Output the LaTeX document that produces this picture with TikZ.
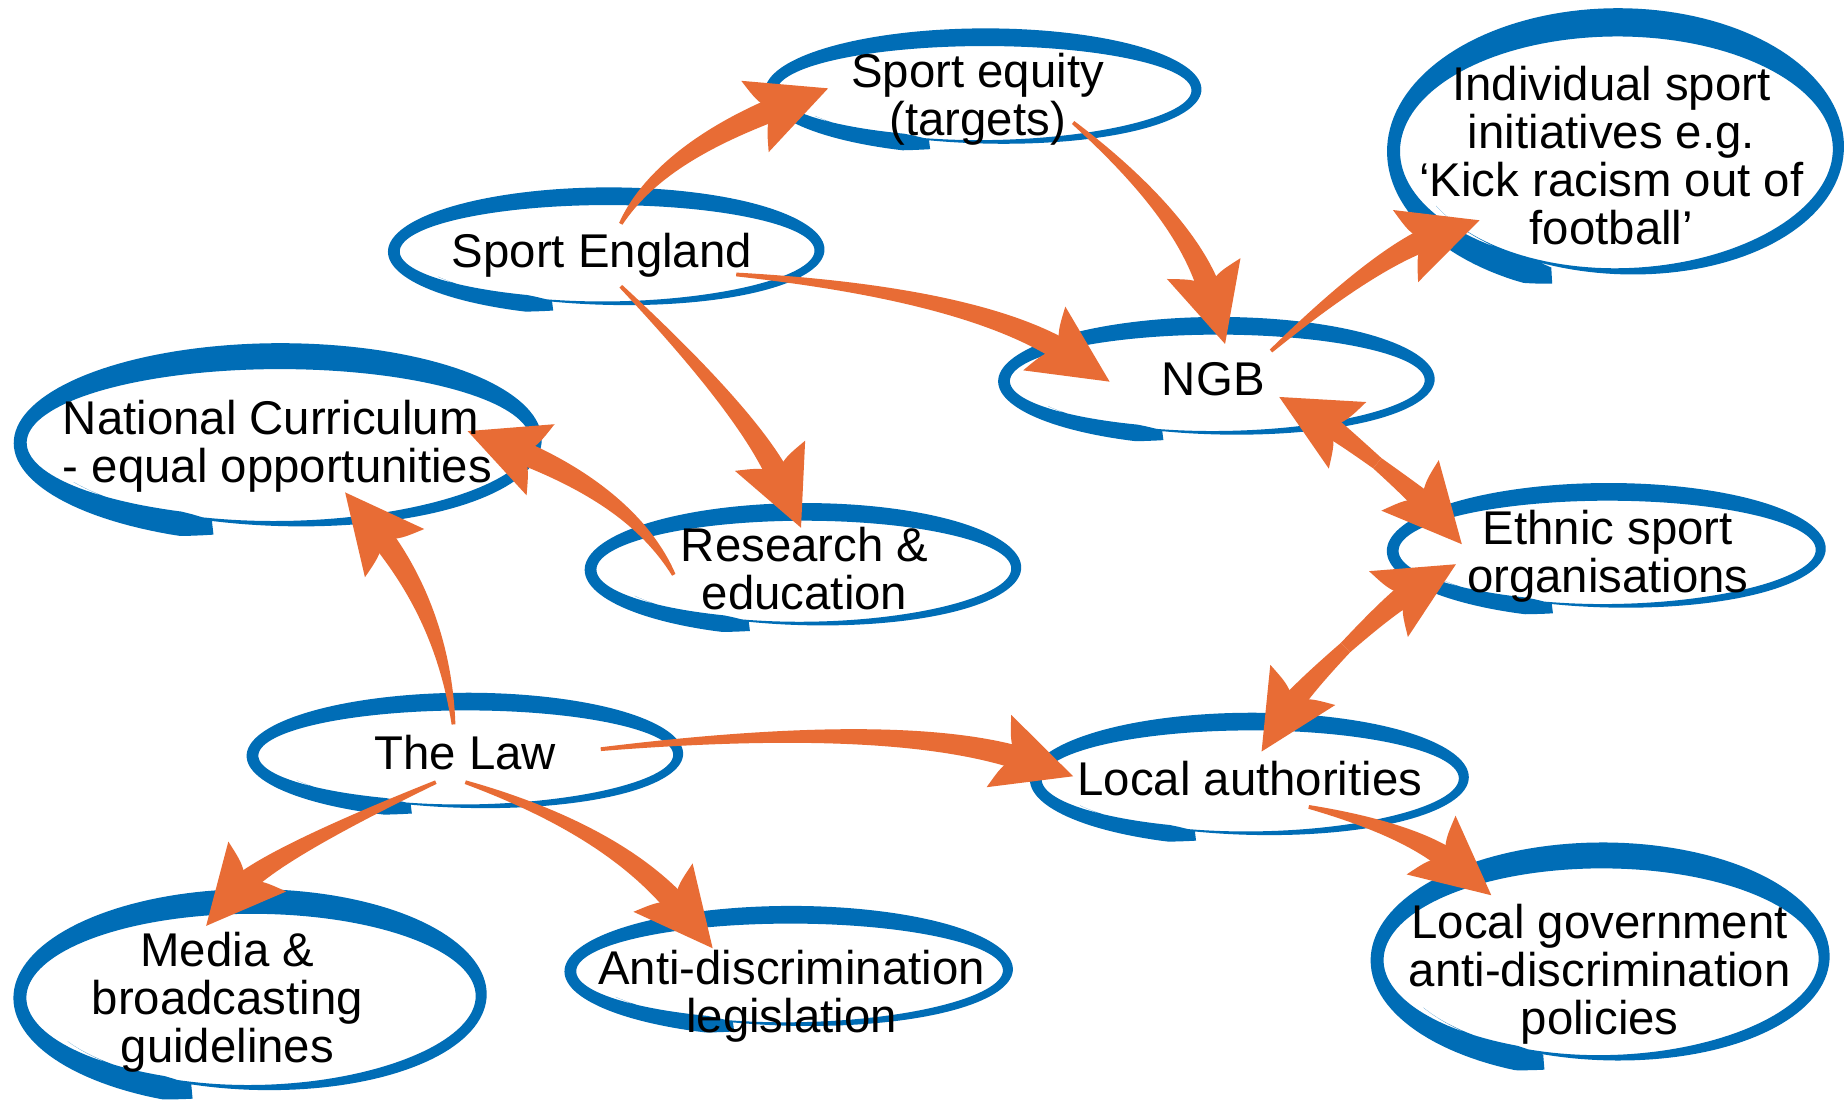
\documentclass[tikz,border=0pt]{standalone}
\usepackage{fontspec}
\setmainfont{Liberation Sans}
\usetikzlibrary{calc}
\definecolor{brushblue}{RGB}{0,109,182}
\definecolor{arrowor}{RGB}{232,108,53}
% brush ring: cx cy a b wx wy phi0
\newcommand\brushring[7]{%
 \fill[brushblue] plot[domain=0:1,samples=170,variable=\t]
   ({#1+((#3)*(1.05-0.1*\t)+(#5)*0.5*gw(\t))*cos(#7+405*\t)},
    {#2+((#4)*(1.05-0.1*\t)+(#6)*0.5*gw(\t))*sin(#7+405*\t)})
  -- plot[domain=1:0,samples=170,variable=\t]
   ({#1+((#3)*(1.05-0.1*\t)-(#5)*0.5*gw(\t))*cos(#7+405*\t)},
    {#2+((#4)*(1.05-0.1*\t)-(#6)*0.5*gw(\t))*sin(#7+405*\t)})
  -- cycle;}
% tapered arrow: start, control, tip, start half width, end half width (pt)
\newcommand\orarrow[5]{%
 \coordinate (ae) at ($(#3)!20pt!(#2)$);
 \coordinate (aqa) at ($(#1)!0.6667!(#2)$);
 \coordinate (aqb) at ($(ae)!0.6667!(#2)$);
 \pgfmathsetmacro\hqa{#4+0.45*(#5-#4)}%
 \pgfmathsetmacro\hqb{#4+0.85*(#5-#4)}%
 \fill[arrowor] ($(#1)!#4pt!-90:(#2)$) .. controls ($(aqa)!\hqa pt!-90:(#2)$) and ($(aqb)!\hqb pt!90:(#2)$) .. ($(ae)!#5pt!90:(#2)$)
   -- ($(ae)!#5pt!-90:(#2)$) .. controls ($(aqb)!\hqb pt!-90:(#2)$) and ($(aqa)!\hqa pt!90:(#2)$) .. ($(#1)!#4pt!90:(#2)$) -- cycle;
 \fill[arrowor] (#3) .. controls ($(#3)!19pt!26:(#2)$) .. ($(#3)!37pt!26:(#2)$)
   .. controls ($(#3)!31pt!12:(#2)$) .. ($(#3)!26pt!(#2)$)
   .. controls ($(#3)!31pt!-12:(#2)$) .. ($(#3)!37pt!-26:(#2)$)
   .. controls ($(#3)!19pt!-26:(#2)$) .. (#3) -- cycle;}
\begin{document}
\begin{tikzpicture}[x=0.5pt,y=-0.5pt,
  declare function={gw(\t)=min(1,0.55+25*\t)*((\t<0.5)+(\t>=0.5)*0.5*(1+cos(360*(\t-0.5))));},
  lbl/.style={font=\fontsize{20.1}{20.4}\selectfont, align=center, inner sep=0pt, text=black}]
\useasboundingbox (0,0) rectangle (1568,943);
\fill[white] (0,0) rectangle (1568,943);
% rings
\brushring{839}{77}{179}{45}{10}{15}{105}
\brushring{1376}{127}{187}{107}{11}{24}{107}
\brushring{519}{213}{179}{46}{10}{15}{105}
\brushring{1037}{323}{179}{46}{10}{15}{105}
\brushring{241}{375}{217}{72}{11}{22}{105}
\brushring{686}{483}{179}{48}{10}{15}{105}
\brushring{1368}{467}{180}{49}{10}{15}{105}
\brushring{399}{641}{179}{45}{10}{15}{105}
\brushring{1065}{661}{180}{48}{10}{15}{105}
\brushring{217}{846}{194}{80}{11}{21}{105}
\brushring{674}{824}{184}{47}{10}{15}{105}
\brushring{1363}{814}{188}{87}{11}{22}{105}
% connector coordinates
\coordinate (a1s) at (527,190); \coordinate (a1c) at (560,130); \coordinate (a1t) at (703,75);
\coordinate (a2s) at (911,104); \coordinate (a2c) at (1010,186); \coordinate (a2t) at (1040,292);
\coordinate (a3s) at (625,233); \coordinate (a3c) at (830,250); \coordinate (a3t) at (942,324);
\coordinate (a4s) at (527,243); \coordinate (a4c) at (640,355); \coordinate (a4t) at (680,448);
\coordinate (a5s) at (572,488); \coordinate (a5c) at (537,421); \coordinate (a5t) at (397,366);
\coordinate (a6s) at (385,615); \coordinate (a6c) at (376,520); \coordinate (a6t) at (293,418);
\coordinate (a7s) at (510,636); \coordinate (a7c) at (767,610); \coordinate (a7t) at (911,659);
\coordinate (a8s) at (370,664); \coordinate (a8c) at (225,728); \coordinate (a8t) at (175,786);
\coordinate (a9s) at (395,664); \coordinate (a9c) at (524,706); \coordinate (a9t) at (605,805);
\coordinate (a10s) at (1079,298); \coordinate (a10c) at (1170,217); \coordinate (a10t) at (1256,187);
\coordinate (a13s) at (1111,685); \coordinate (a13c) at (1200,705); \coordinate (a13t) at (1266,760);
% double arrows
\coordinate (d1a) at (1086,337); \coordinate (d1b) at (1175,387); \coordinate (d1c) at (1241,462);
\coordinate (d1m) at ($0.25*(d1a)+0.5*(d1b)+0.25*(d1c)$);
\coordinate (d1p) at ($(d1b)!0.5!(d1a)$); \coordinate (d1q) at ($(d1b)!0.5!(d1c)$);
\coordinate (d2a) at (1071,638); \coordinate (d2b) at (1131,541); \coordinate (d2c) at (1236,479);
\coordinate (d2m) at ($0.25*(d2a)+0.5*(d2b)+0.25*(d2c)$);
\coordinate (d2p) at ($(d2b)!0.5!(d2a)$); \coordinate (d2q) at ($(d2b)!0.5!(d2c)$);
% arrows
\orarrow{a1s}{a1c}{a1t}{0.8}{5}
\orarrow{a2s}{a2c}{a2t}{0.8}{5}
\orarrow{a3s}{a3c}{a3t}{0.8}{5}
\orarrow{a4s}{a4c}{a4t}{0.8}{5}
\orarrow{a5s}{a5c}{a5t}{0.8}{5}
\orarrow{a6s}{a6c}{a6t}{0.8}{5}
\orarrow{a7s}{a7c}{a7t}{0.8}{5}
\orarrow{a8s}{a8c}{a8t}{0.8}{5}
\orarrow{a9s}{a9c}{a9t}{0.8}{5}
\orarrow{a10s}{a10c}{a10t}{0.8}{5}
\orarrow{a13s}{a13c}{a13t}{0.8}{5}
\orarrow{d1m}{d1p}{d1a}{2.8}{5}
\orarrow{d1m}{d1q}{d1c}{2.8}{5}
\orarrow{d2m}{d2p}{d2a}{2.8}{5}
\orarrow{d2m}{d2q}{d2c}{2.8}{5}
% labels
\node[lbl] (seq) at (830,84) {Sport equity\\(targets)};
\node[lbl] (ind) at (1368,132) {Individual sport\\initiatives e.g.\\‘Kick racism out of\\football’};
\node[lbl] (se) at (511,217) {Sport England};
\node[lbl] (ngb) at (1030,322) {NGB};
\node[lbl,anchor=west,align=left] (nc) at (53,379) {National Curriculum\\- equal opportunities};
\node[lbl] (res) at (683,483) {Research \&\\education};
\node[lbl] (eth) at (1365,472) {Ethnic sport\\organisations};
\node[lbl] (law) at (395,639) {The Law};
\node[lbl] (la) at (1061,661) {Local authorities};
\node[lbl] (med) at (193,851) {Media \&\\broadcasting\\guidelines};
\node[lbl] (anti) at (672,846) {Anti-discrimination\\legislation};
\node[lbl] (lg) at (1358,827) {Local government\\anti-discrimination\\policies};
\end{tikzpicture}
\end{document}
